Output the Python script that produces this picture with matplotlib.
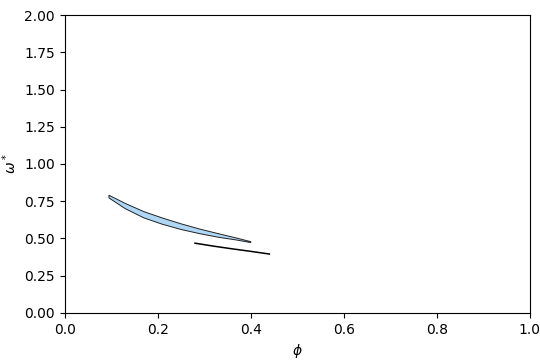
import matplotlib
matplotlib.use("Agg")
import matplotlib.pyplot as plt
import numpy as np

# stability region (upper / lower boundary)
upper_phi = [0.095, 0.13, 0.17, 0.21, 0.25, 0.29, 0.33, 0.37, 0.40]
upper_w = [0.79, 0.735, 0.68, 0.637, 0.598, 0.563, 0.532, 0.502, 0.478]
lower_phi = [0.095, 0.13, 0.17, 0.21, 0.25, 0.29, 0.33, 0.37, 0.40]
lower_w = [0.772, 0.70, 0.638, 0.595, 0.56, 0.532, 0.508, 0.489, 0.472]

# separate branch
line_phi = [0.28, 0.32, 0.36, 0.40, 0.44]
line_w = [0.468, 0.448, 0.43, 0.413, 0.395]

fig = plt.figure(figsize=(5.4, 3.6), dpi=100)
ax = fig.add_axes([0.12, 0.131, 0.861, 0.827])

poly_x = np.concatenate([upper_phi, lower_phi[::-1]])
poly_y = np.concatenate([upper_w, lower_w[::-1]])
ax.fill(poly_x, poly_y, facecolor='#aed6f5', edgecolor='#222222', linewidth=0.7)
ax.plot(line_phi, line_w, color='black', linewidth=1.1)

ax.set_xlim(0, 1)
ax.set_ylim(0, 2)
ax.set_yticks(np.arange(0, 2.01, 0.25))
ax.set_xlabel(r'$\phi$')
ax.set_ylabel(r'$\omega^*$')

fig.savefig('out.png', dpi=100)
